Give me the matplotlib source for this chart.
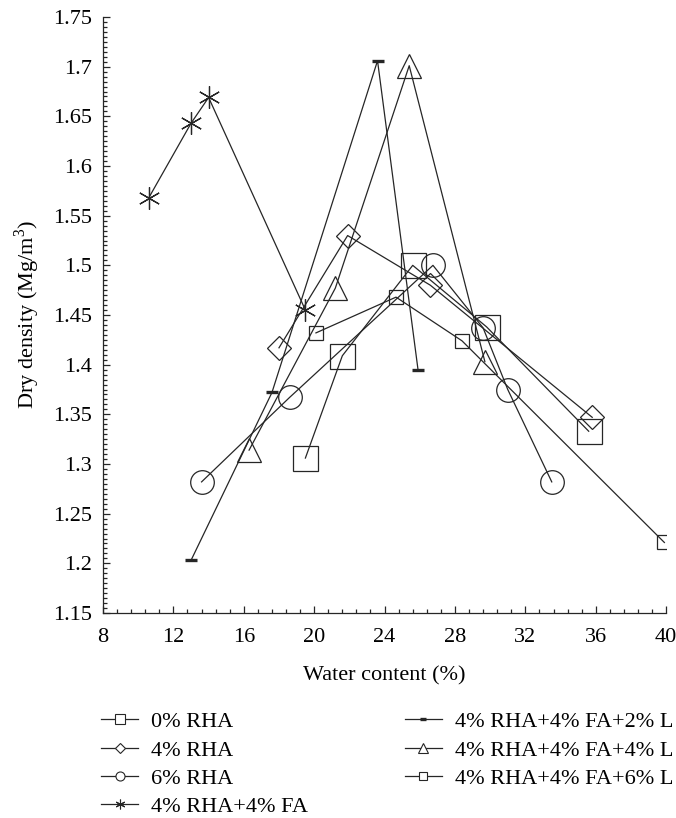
import numpy as np
import matplotlib
matplotlib.use("Agg")
import matplotlib.pyplot as plt
from matplotlib.lines import Line2D
from matplotlib.ticker import MultipleLocator, FixedLocator, FixedFormatter

plt.rcParams['font.family'] = ['Liberation Serif', 'DejaVu Serif']
plt.rcParams['mathtext.fontset'] = 'custom'
plt.rcParams['mathtext.rm'] = 'Liberation Serif'
plt.rcParams['font.size'] = 16

# water content (%) and dry density (Mg/m3)
rha0_x = [19.5, 21.6, 25.6, 29.8, 35.6]
rha0_y = [1.306, 1.409, 1.500, 1.438, 1.333]

rha4_x = [18.0, 21.9, 26.6, 35.8]
rha4_y = [1.417, 1.530, 1.480, 1.347]

rha6_x = [13.6, 18.6, 26.75, 29.6, 31.0, 33.5]
rha6_y = [1.282, 1.367, 1.500, 1.437, 1.375, 1.282]

fa_x = [10.6, 13.0, 14.0, 19.5]
fa_y = [1.568, 1.643, 1.669, 1.455]

l2_x = [13.0, 17.6, 23.6, 25.9]
l2_y = [1.203, 1.372, 1.706, 1.395]

l4_x = [16.3, 21.2, 25.4, 29.7]
l4_y = [1.314, 1.477, 1.701, 1.403]

l6_x = [20.1, 24.65, 28.4, 39.9]
l6_y = [1.432, 1.468, 1.424, 1.221]

labels = ["0% RHA", "4% RHA", "6% RHA", "4% RHA+4% FA",
          "4% RHA+4% FA+2% L", "4% RHA+4% FA+4% L", "4% RHA+4% FA+6% L"]

y_ticks = [1.15, 1.2, 1.25, 1.3, 1.35, 1.4, 1.45, 1.5, 1.55, 1.6, 1.65, 1.7, 1.75]
y_ticklabels = ["1.15", "1.2", "1.25", "1.3", "1.35", "1.4", "1.45", "1.5",
                "1.55", "1.6", "1.65", "1.7", "1.75"]
x_ticks = [8, 12, 16, 20, 24, 28, 32, 36, 40]

c = '#262626'
asterisk = (6, 2, 0)

fig = plt.figure(figsize=(6.76, 8.18), dpi=100)
ax = fig.add_axes([0.1524, 0.2506, 0.833, 0.7286])

# (x, y, marker, plot size, legend size, edge width)
series = [
    (rha0_x, rha0_y, 's', 18, 6.5, 0.9),
    (rha4_x, rha4_y, 'D', 12, 5, 0.9),
    (rha6_x, rha6_y, 'o', 17, 6.5, 0.9),
    (fa_x, fa_y, asterisk, 16, 7, 0.9),
    (l2_x, l2_y, '_', 9, 4, 2.4),
    (l4_x, l4_y, '^', 17, 7, 0.9),
    (l6_x, l6_y, 's', 9.5, 5.5, 0.9),
]

handles = []
for (xs, ys, m, ms, lms, mew), lab in zip(series, labels):
    ax.plot(xs, ys, color=c, lw=0.9, marker=m, ms=ms, mew=mew,
            mfc='none', mec=c)
    handles.append(Line2D([], [], color=c, lw=0.9, marker=m, ms=lms,
                          mew=mew if m == '_' else 0.8, mfc='white', mec=c,
                          label=lab))

ax.set_xlim(8, 40)
ax.set_ylim(1.15, 1.75)
ax.xaxis.set_major_locator(FixedLocator(x_ticks))
ax.xaxis.set_minor_locator(MultipleLocator(0.8))
ax.yaxis.set_major_locator(FixedLocator(y_ticks))
ax.yaxis.set_major_formatter(FixedFormatter(y_ticklabels))
ax.yaxis.set_minor_locator(MultipleLocator(0.005))
ax.tick_params(which='both', direction='in', color=c, width=0.9)
ax.tick_params(which='major', length=5)
ax.tick_params(which='minor', length=3)
ax.tick_params(axis='x', pad=11)
ax.tick_params(axis='y', pad=8)
for s in ['top', 'right']:
    ax.spines[s].set_visible(False)
for s in ['left', 'bottom']:
    ax.spines[s].set_color(c)
    ax.spines[s].set_linewidth(0.9)

ax.set_xlabel("Water content (%)", labelpad=14)
ax.set_ylabel("Dry density (Mg/m$^3$)", labelpad=8)

leg_kw = dict(frameon=False, loc='upper left', borderpad=0, borderaxespad=0,
              handlelength=1.66, handletextpad=0.59, labelspacing=0.35,
              fontsize=16)
fig.legend(handles=handles[:4], bbox_to_anchor=(0.150, 0.130), **leg_kw)
fig.legend(handles=handles[4:], bbox_to_anchor=(0.599, 0.130), **leg_kw)

fig.savefig("out.png", dpi=100)
